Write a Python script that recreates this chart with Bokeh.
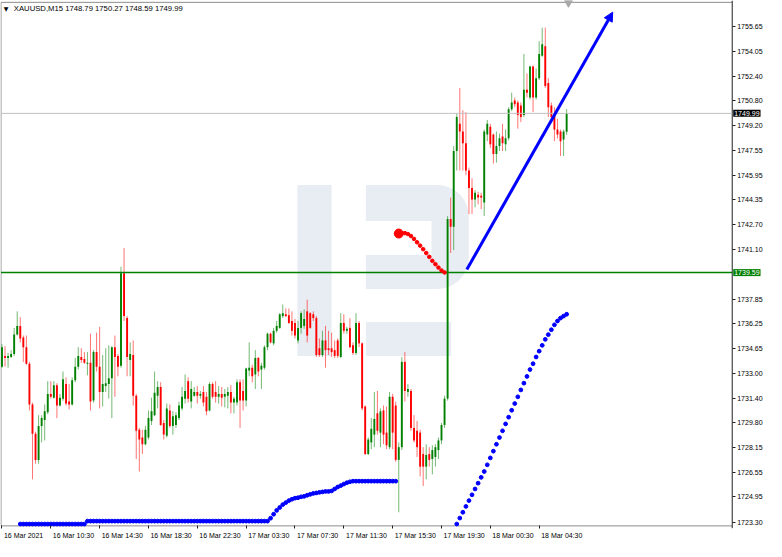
import math
from bokeh.plotting import figure
from bokeh.models import (ColumnDataSource, FixedTicker, Range1d, Label,
                          Arrow, NormalHead, CustomJSTickFormatter, PrintfTickFormatter)
from bokeh.embed import file_html
from bokeh.resources import INLINE

# ---------------- data ----------------
symbol_line = "XAUUSD,M15  1748.79 1750.27 1748.59 1749.99"

open_ = [
1733.45,1734.15,1734.02,1734.08,1734.27,1735.54,1736.11,1735.35,1734.72,1733.63,
1730.98,1729.07,1727.36,1729.58,1729.96,1730.47,1731.67,1731.42,1732.24,1730.91,
1731.36,1732.31,1731.17,1730.98,1732.56,1733.45,1734.08,1733.95,1733.63,1733.70,
1731.23,1734.40,1733.45,1731.80,1732.18,1732.31,1732.69,1734.72,1734.15,1733.51,
1739.54,1736.62,1733.89,1734.21,1731.55,1729.33,1728.82,1728.38,1728.82,1729.90,
1730.28,1731.55,1732.12,1729.77,1728.94,1730.59,1729.58,1729.64,1730.09,1730.72,
1731.36,1732.50,1731.17,1731.55,1731.80,1731.55,1731.80,1731.48,1730.59,1732.31,
1731.80,1731.48,1731.67,1731.48,1731.55,1731.80,1731.10,1731.10,1732.43,1731.86,
1731.23,1733.19,1733.38,1732.94,1734.02,1733.26,1733.38,1734.72,1735.60,1734.97,
1735.79,1735.98,1736.75,1736.87,1736.81,1736.43,1736.30,1735.16,1735.98,1736.11,
1737.06,1736.94,1736.87,1736.62,1734.65,1734.21,1735.16,1734.65,1734.65,1734.53,
1735.16,1734.08,1736.30,1735.79,1735.98,1734.84,1734.34,1736.30,1734.97,1730.85,
1727.74,1728.50,1729.01,1730.40,1729.14,1730.59,1729.14,1728.19,1731.48,1730.91,
1727.36,1728.19,1733.76,1731.80,1731.86,1729.45,1729.26,1729.14,1727.74,1726.92,
1727.74,1727.42,1727.55,1728.00,1728.63,1729.64,1731.36,1743.09,1742.59,1747.53,
1749.31,1748.80,1748.04,1746.26,1745.12,1744.36,1744.68,1744.61,1744.17,1748.61,
1749.12,1748.61,1747.34,1747.85,1748.48,1747.98,1748.36,1750.26,1750.83,1750.70,
1750.51,1749.88,1751.53,1751.02,1753.05,1751.02,1752.29,1753.75,1754.38,1751.97,
1750.51,1749.88,1748.93,1748.80,1748.29,1748.79]

high = [
1734.91,1734.78,1734.34,1734.53,1735.98,1737.06,1736.68,1735.48,1735.48,1733.76,
1731.10,1729.20,1730.28,1730.28,1730.98,1732.50,1732.50,1732.50,1732.37,1731.67,
1733.13,1732.75,1732.31,1732.75,1734.02,1734.72,1734.65,1734.40,1734.40,1735.60,
1734.53,1735.67,1736.05,1734.21,1734.65,1734.84,1734.78,1735.48,1734.27,1739.98,
1741.19,1736.75,1735.03,1735.16,1731.67,1729.45,1729.33,1729.58,1730.59,1731.42,
1733.13,1732.50,1732.43,1729.96,1731.04,1730.98,1730.53,1730.47,1731.17,1732.12,
1732.94,1732.75,1732.50,1732.12,1732.18,1731.86,1732.18,1731.80,1732.43,1732.43,
1732.50,1732.18,1732.12,1731.99,1732.12,1732.24,1731.48,1732.62,1732.62,1732.62,
1733.38,1735.03,1733.57,1734.53,1734.08,1733.70,1734.84,1735.67,1735.67,1735.98,
1736.43,1736.94,1737.51,1737.25,1737.25,1737.06,1736.56,1736.43,1737.06,1737.19,
1737.82,1737.00,1737.06,1736.75,1735.29,1735.79,1736.11,1735.79,1735.67,1735.16,
1735.29,1736.94,1736.87,1736.05,1736.62,1735.03,1736.94,1736.43,1735.03,1730.91,
1728.82,1730.09,1731.80,1731.86,1730.72,1730.91,1730.85,1731.80,1731.67,1731.17,
1728.50,1734.08,1734.40,1732.31,1731.99,1730.28,1729.90,1729.33,1728.19,1728.38,
1728.19,1728.31,1728.38,1728.82,1729.77,1731.55,1743.28,1744.49,1747.85,1749.94,
1751.65,1750.19,1750.07,1746.45,1745.75,1744.99,1744.87,1744.80,1748.93,1749.56,
1749.31,1748.67,1748.80,1748.67,1749.31,1748.93,1750.39,1751.34,1751.02,1750.83,
1750.70,1753.87,1752.60,1753.11,1753.11,1752.92,1754.70,1755.59,1755.59,1752.29,
1750.70,1750.39,1749.63,1748.93,1748.93,1750.27]

low = [
1733.38,1733.45,1733.38,1734.02,1734.15,1735.48,1735.03,1733.76,1733.57,1730.59,
1726.09,1727.11,1727.11,1728.50,1728.63,1730.34,1731.36,1731.36,1730.09,1730.85,
1731.23,1730.91,1730.66,1730.91,1732.43,1733.26,1733.70,1733.63,1732.88,1730.59,
1731.10,1733.13,1730.72,1730.85,1731.80,1731.36,1730.09,1731.48,1732.82,1733.38,
1736.43,1732.82,1732.82,1730.91,1727.42,1726.60,1727.74,1728.31,1728.69,1729.64,
1730.21,1730.72,1729.58,1728.69,1728.82,1729.45,1729.01,1729.45,1729.96,1730.59,
1731.04,1731.10,1730.72,1731.48,1731.04,1731.36,1730.85,1730.28,1730.53,1731.36,
1731.10,1731.04,1730.85,1730.79,1730.72,1730.40,1730.40,1730.91,1729.45,1730.59,
1730.85,1732.82,1732.43,1731.99,1732.82,1731.99,1733.26,1734.53,1734.97,1734.84,
1735.67,1735.92,1736.62,1736.68,1736.24,1735.48,1735.29,1734.97,1735.60,1735.92,
1735.03,1735.92,1736.43,1734.08,1734.08,1734.08,1733.38,1734.21,1734.08,1734.02,
1734.02,1734.02,1735.60,1735.60,1734.65,1734.21,1734.21,1734.72,1730.59,1727.68,
1727.68,1728.06,1728.19,1729.01,1728.19,1728.38,1728.06,1728.06,1728.06,1727.23,
1723.94,1728.00,1731.17,1731.48,1729.26,1728.50,1727.55,1726.28,1725.65,1726.09,
1726.92,1726.41,1726.92,1727.42,1728.38,1729.45,1731.23,1740.87,1741.06,1746.26,
1746.26,1746.26,1745.95,1743.41,1743.41,1743.85,1744.04,1743.73,1743.28,1748.17,
1747.72,1746.71,1746.77,1747.53,1747.53,1747.53,1748.23,1750.13,1750.39,1748.99,
1749.43,1749.75,1751.02,1750.89,1750.07,1750.89,1752.16,1753.68,1751.65,1749.75,
1749.43,1748.17,1748.36,1747.21,1747.21,1748.59]

close = [
1734.72,1734.02,1734.15,1734.27,1735.54,1736.11,1735.29,1734.72,1733.63,1730.98,
1729.07,1727.36,1729.58,1730.09,1730.53,1731.67,1731.48,1732.24,1730.91,1731.42,
1732.62,1731.04,1730.98,1732.56,1733.45,1734.15,1733.89,1733.70,1733.70,1731.17,
1734.40,1733.45,1731.80,1732.31,1732.37,1732.69,1734.72,1734.08,1733.45,1739.54,
1736.75,1734.08,1734.27,1731.55,1729.26,1728.69,1728.38,1729.33,1730.09,1730.53,
1731.74,1732.12,1729.64,1729.01,1730.72,1729.58,1730.21,1730.28,1730.91,1731.48,
1731.86,1731.36,1731.99,1731.80,1731.55,1731.67,1731.10,1730.53,1732.31,1731.48,
1731.48,1731.67,1731.42,1731.67,1731.80,1731.10,1731.36,1732.43,1731.23,1731.23,
1733.32,1733.38,1732.82,1734.02,1733.13,1733.51,1734.72,1735.60,1735.03,1735.79,
1736.11,1736.87,1736.94,1736.75,1736.30,1735.79,1735.48,1735.98,1736.94,1736.56,
1735.48,1735.98,1736.62,1734.21,1734.21,1735.16,1734.53,1734.53,1734.40,1734.15,
1734.15,1736.30,1735.79,1735.92,1734.72,1734.34,1736.30,1734.97,1730.72,1727.74,
1728.69,1729.39,1730.03,1729.26,1730.53,1729.01,1728.31,1731.48,1729.14,1727.36,
1728.19,1733.76,1731.86,1731.99,1729.45,1728.63,1728.19,1726.92,1726.92,1727.68,
1727.36,1728.00,1728.19,1728.63,1729.64,1731.36,1743.09,1742.59,1747.53,1749.75,
1748.80,1748.04,1746.26,1745.12,1744.36,1744.80,1744.49,1744.49,1748.80,1749.31,
1747.98,1747.34,1747.85,1748.36,1748.04,1748.36,1750.26,1750.70,1750.58,1749.88,
1749.75,1751.53,1751.34,1753.05,1751.02,1752.29,1753.87,1754.51,1751.78,1750.39,
1749.75,1748.93,1748.61,1748.17,1748.80,1749.99]

# lower blue dotted indicator (starts at bar 6)
ma1_start = 6
ma1 = [
1723.17,1723.17,1723.17,1723.17,1723.17,1723.17,1723.17,1723.17,1723.17,1723.17,
1723.17,1723.17,1723.17,1723.17,1723.17,1723.17,1723.17,1723.17,1723.17,1723.17,
1723.17,1723.17,
1723.36,1723.36,1723.36,1723.36,1723.36,1723.36,1723.36,1723.36,1723.36,1723.36,
1723.36,1723.36,1723.36,1723.36,1723.36,1723.36,1723.36,1723.36,1723.36,1723.36,
1723.36,1723.36,1723.36,1723.36,1723.36,1723.36,1723.36,1723.36,1723.36,1723.36,
1723.36,1723.36,1723.36,1723.36,1723.36,1723.36,1723.36,1723.36,1723.36,1723.36,
1723.36,1723.36,1723.36,1723.36,1723.36,1723.36,1723.36,1723.36,1723.36,1723.36,
1723.36,1723.36,1723.36,1723.36,1723.36,1723.36,1723.36,1723.36,1723.36,1723.36,
1723.55,1723.81,1724.06,1724.25,1724.44,1724.57,1724.70,1724.79,1724.86,1724.89,
1724.95,1724.98,1725.05,1725.11,1725.17,1725.20,1725.24,1725.27,1725.30,1725.30,
1725.33,1725.46,1725.59,1725.68,1725.78,1725.87,
1725.93,1725.97,1725.97,1725.97,1725.97,1725.97,1725.97,1725.97,1725.97,1725.97,
1725.97,1725.97,1725.97,1725.97,1725.97,1725.97]

# second blue dotted indicator (starts at bar 149)
ma2_start = 149
ma2 = [1723.17,1723.56,1723.94,1724.32,1724.70,1725.08,1725.46,1725.84,1726.22,1726.60,
       1727.04,1727.49,1727.93,1728.38,1728.82,1729.26,1729.71,1730.15,1730.60,1731.04,
       1731.48,1731.93,1732.37,1732.81,1733.26,1733.64,1734.08,1734.46,1734.84,1735.23,
       1735.54,1735.86,1736.18,1736.43,1736.62,1736.75,1736.87]

# red dotted projection (starts at bar 130)
red_start = 130
red_proj = [1742.14,1742.17,1742.17,1742.11,1741.98,1741.79,1741.57,1741.35,1741.12,
            1740.87,1740.62,1740.36,1740.14,1739.92,1739.73,1739.60]

# blue forecast arrow (bar index, price)
arrow_x = [152.3, 200.1]
arrow_y = [1739.79, 1756.60]

bid_level = 1749.99
support_level = 1739.59

price_ticks = [1723.30, 1724.95, 1726.55, 1728.15, 1729.80, 1731.40, 1733.00, 1734.65,
               1736.25, 1737.85, 1741.10, 1742.70, 1744.35, 1745.95, 1747.55, 1749.20,
               1750.80, 1752.40, 1754.05, 1755.65]

time_tick_bars = [0, 16, 32, 48, 64, 80, 96, 112, 128, 144, 160, 176]
time_labels = ["16 Mar 2021", "16 Mar 10:30", "16 Mar 14:30", "16 Mar 18:30",
               "16 Mar 22:30", "17 Mar 03:30", "17 Mar 07:30", "17 Mar 11:30",
               "17 Mar 15:30", "17 Mar 19:30", "18 Mar 00:30", "18 Mar 04:30"]

# chart window edges (bar index / price)
chart_left, chart_right = -0.32, 239.25
chart_bottom, chart_top = 1723.05, 1757.24

# watermark logo geometry (bar index / price): stem, bracket-shaped bowl, leg
logo_stem = (96.76, 107.99, 1734.15, 1745.31)          # left, right, bottom, top
logo_bowl = (119.22, 152.92, 1738.52, 1745.31)         # left, right, bottom, top
logo_hole = (140.72, 1740.74, 1742.96)                 # right, bottom, top
logo_leg = (119.22, 147.14, 1734.15, 1736.37)          # left, right, bottom, top
logo_corner = (10.3, 2.03)                             # corner radius (bars, price)

assert len(open_) == len(high) == len(low) == len(close) == 186

# ---------------- figure ----------------
FONT = "Liberation Sans"
W, H = 766, 541
x0, x1 = -0.48, 250.48
p = figure(width=W, height=H, output_backend="svg", toolbar_location=None,
           x_range=Range1d(x0, x1), y_range=Range1d(1722.03, 1757.36),
           x_axis_location="below", y_axis_location="right",
           min_border_left=0, min_border_right=0, min_border_top=0, min_border_bottom=0)
p.background_fill_color = "white"
p.border_fill_color = "white"
p.outline_line_color = None
p.xgrid.visible = False
p.ygrid.visible = False

# watermark
WM = "#e8ecf3"
sl, sr, sb, st = logo_stem
ll, lr, lb, lt = logo_leg
p.quad(left=[sl, ll], right=[sr, lr], bottom=[sb, lb], top=[st, lt],
       fill_color=WM, line_color=None, level="underlay")
bl, br, bb, bt = logo_bowl
hr, hb, ht = logo_hole
rx, ry = logo_corner
bx, by = [bl, br - rx], [bt, bt]
for k in range(1, 10):
    a = math.pi / 2 - k * math.pi / 18
    bx.append(br - rx + rx * math.cos(a)); by.append(bt - ry + ry * math.sin(a))
for k in range(0, 10):
    a = -k * math.pi / 18
    bx.append(br - rx + rx * math.cos(a)); by.append(bb + ry + ry * math.sin(a))
bx += [bl, bl, hr, hr, bl]
by += [bb, hb, hb, ht, ht]
p.patch(bx, by, fill_color=WM, line_color=None, level="underlay")

# chart window border
p.segment(x0=[chart_left, chart_left, chart_left], y0=[chart_top, chart_bottom, chart_bottom],
          x1=[chart_right, chart_left, chart_right], y1=[chart_top, chart_top, chart_bottom],
          line_color="#8c8c8c", line_width=1)
p.segment(x0=[chart_right], y0=[chart_bottom - 0.15], x1=[chart_right], y1=[1757.36],
          line_color="#202020", line_width=1)

idx = list(range(len(close)))
bull = [c >= o for o, c in zip(open_, close)]
src = ColumnDataSource(dict(
    x=idx, high=high, low=low,
    top=[max(o, c) for o, c in zip(open_, close)],
    bottom=[min(o, c) - (0.04 if abs(o - c) < 0.04 else 0) for o, c in zip(open_, close)],
    color=["#008000" if b else "#ff0000" for b in bull],
))
p.segment(x0="x", y0="low", x1="x", y1="high", source=src, line_color="color",
          line_alpha=0.55, line_width=1)
p.vbar(x="x", top="top", bottom="bottom", width=0.62, source=src,
       fill_color="color", line_color=None)

# horizontal levels (stop at the price scale)
p.segment(x0=[chart_left], y0=[bid_level], x1=[chart_right], y1=[bid_level],
          line_color="#c0c0c0", line_width=1)
p.segment(x0=[chart_left], y0=[support_level], x1=[chart_right], y1=[support_level],
          line_color="#008000", line_width=1.5)

# indicators
p.scatter(list(range(ma1_start, ma1_start + len(ma1))), ma1, size=3.8, color="#0000ff")
p.scatter(list(range(ma2_start, ma2_start + len(ma2))), ma2, size=3.8, color="#0000ff")
p.scatter(list(range(red_start, red_start + len(red_proj))), red_proj, size=3.6, color="#ff0000")
p.scatter([red_start], [red_proj[0]], size=9, color="#ff0000")

# arrow
p.add_layout(Arrow(end=NormalHead(size=9, fill_color="#0000ff", line_color="#0000ff"),
                   x_start=arrow_x[0], y_start=arrow_y[0], x_end=arrow_x[1], y_end=arrow_y[1],
                   line_color="#0000ff", line_width=3))

# price axis, drawn at the chart's right edge
ya = p.yaxis[0]
ya.fixed_location = chart_right
ya.ticker = FixedTicker(ticks=price_ticks)
ya.formatter = PrintfTickFormatter(format="%.2f")
ya.major_label_text_font = FONT
ya.major_label_text_font_size = "7px"
ya.major_label_text_color = "#000000"
ya.major_tick_out = 3
ya.major_tick_in = 0
ya.minor_tick_line_color = None
ya.major_label_standoff = 2
ya.axis_line_color = None
ya.major_tick_line_color = "#202020"

# time axis, drawn at the chart's bottom edge
char_w = {"1": .556, "6": .556, "0": .556, "2": .556, "3": .556, "4": .556, "5": .556,
          "7": .556, "8": .556, "9": .556, " ": .278, "M": .833, "a": .556, "r": .333, ":": .278}
px_per_bar = W / (x1 - x0)
centers = []
for b, lab in zip(time_tick_bars, time_labels):
    w = sum(char_w.get(ch, .556) for ch in lab) * 7
    centers.append(b + (2 + w / 2) / px_per_bar)

xa = p.xaxis[0]
xa.fixed_location = chart_bottom
xa.ticker = FixedTicker(ticks=centers, minor_ticks=time_tick_bars)
xa.formatter = CustomJSTickFormatter(args=dict(pos=centers, labels=time_labels), code="""
    let best = -1, bd = 1e9;
    for (let i = 0; i < pos.length; i++) { const d = Math.abs(pos[i] - tick); if (d < bd) { bd = d; best = i; } }
    return bd < 0.01 ? labels[best] : "";
""")
xa.major_tick_out = 0
xa.major_tick_in = 0
xa.minor_tick_out = 3
xa.minor_tick_in = 0
xa.minor_tick_line_color = "#202020"
xa.major_label_standoff = 3
xa.major_label_text_font = FONT
xa.major_label_text_font_size = "7px"
xa.major_label_text_color = "#000000"
xa.axis_line_color = None

# title text and symbol marker
p.add_layout(Label(x=3.9, y=1756.82, text=symbol_line, text_font=FONT,
                   text_font_size="7.7px", text_baseline="middle", text_color="#000000"))
p.add_layout(Label(x=0.6, y=1756.82, text="\u25BC", text_font="DejaVu Sans",
                   text_font_size="6px", text_baseline="middle", text_color="#000000"))
p.scatter([185.6], [1757.22], marker="inverted_triangle", size=8, color="#a8a8a8")

# right-axis price tags
p.add_layout(Label(x=chart_right, y=bid_level, x_offset=1, text=f"{bid_level:.2f}",
                   text_font=FONT, text_font_size="7px", text_baseline="middle",
                   text_color="#ffffff", background_fill_color="#000000", padding=1))
p.add_layout(Label(x=chart_right, y=support_level, x_offset=1, text=f"{support_level:.2f}",
                   text_font=FONT, text_font_size="7px", text_baseline="middle",
                   text_color="#ffffff", background_fill_color="#008000", padding=1))

open("out.html", "w").write(file_html(p, INLINE))
